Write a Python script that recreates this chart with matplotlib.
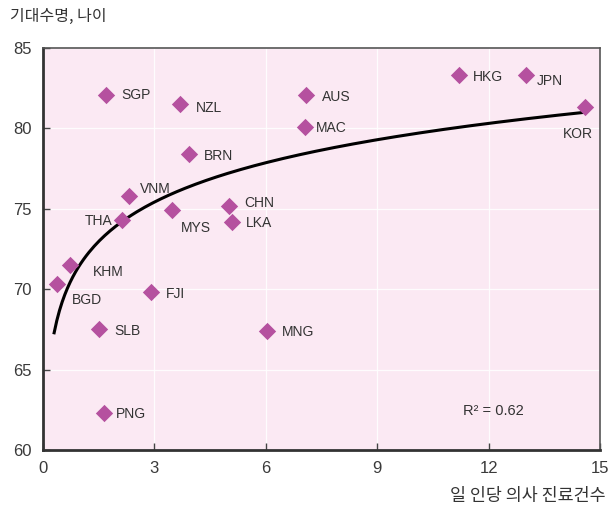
import numpy as np
import matplotlib
matplotlib.use('Agg')
import matplotlib.pyplot as plt

# 국가별 데이터
countries = ['SGP', 'NZL', 'BRN', 'VNM', 'THA', 'MYS', 'CHN', 'LKA', 'AUS', 'MAC',
             'HKG', 'JPN', 'KOR', 'KHM', 'BGD', 'FJI', 'SLB', 'MNG', 'PNG']
visits = [1.69, 3.70, 3.92, 2.31, 2.12, 3.48, 5.02, 5.10, 7.09, 7.06,
          11.2, 13.0, 14.6, 0.74, 0.37, 2.90, 1.50, 6.02, 1.63]
life_exp = [82.1, 81.5, 78.4, 75.8, 74.3, 74.9, 75.2, 74.2, 82.1, 80.1,
            83.3, 83.3, 81.3, 71.5, 70.3, 69.8, 67.5, 67.4, 62.3]
# label offsets (points) and alignment
offsets = {'SGP': (11, 0, 'left'), 'NZL': (11, -3, 'left'), 'BRN': (11, -1, 'left'),
           'VNM': (8, 5, 'left'), 'THA': (-7, -1, 'right'), 'MYS': (6, -13, 'left'),
           'CHN': (11, 2, 'left'), 'LKA': (10, -1, 'left'), 'AUS': (11, -2, 'left'),
           'MAC': (8, -1, 'left'), 'HKG': (10, -1, 'left'), 'JPN': (8, -4, 'left'),
           'KOR': (-5, -19, 'center'), 'KHM': (16, -5, 'left'), 'BGD': (11, -11, 'left'),
           'FJI': (11, -1, 'left'), 'SLB': (11, -1, 'left'), 'MNG': (11, -1, 'left'),
           'PNG': (9, -1, 'left')}

fit_a, fit_b = 71.54, 3.53  # 로그 추세선 y = a + b ln(x)
fit_x = [0.3, 14.6]

plt.rcParams['font.family'] = ['Liberation Sans', 'Noto Sans CJK KR']

fig = plt.figure(figsize=(6.08, 5.12), dpi=100)
ax = fig.add_axes([43 / 608, 62 / 512, 557 / 608, 402 / 512])
ax.set_facecolor('#fbe9f3')

ax.scatter(visits, life_exp, marker='D', s=78, color='#b5519f', zorder=3, linewidths=0)
for c, x, y in zip(countries, visits, life_exp):
    dx, dy, ha = offsets[c]
    ax.annotate(c, (x, y), xytext=(dx, dy), textcoords='offset points',
                ha=ha, va='center', fontsize=10, color='#333333')

xs = np.linspace(fit_x[0], fit_x[1], 200)
ax.plot(xs, fit_a + fit_b * np.log(xs), color='black', lw=2.2, zorder=2)

ax.text(11.3, 62.4, 'R² = 0.62', fontsize=10.5, color='#333333', va='center')

ax.set_xlim(0, 15)
ax.set_ylim(60, 85)
ax.set_xticks([0, 3, 6, 9, 12, 15])
ax.set_yticks([60, 65, 70, 75, 80, 85])
ax.grid(True, color='white', lw=0.9, alpha=0.9)
ax.set_axisbelow(True)
ax.tick_params(direction='in', length=5, width=1, color='#444444',
               labelsize=12, labelcolor='#3a3a3a', pad=8)
for s in ['left', 'bottom']:
    ax.spines[s].set_linewidth(2)
    ax.spines[s].set_color('#333333')
for s in ['top', 'right']:
    ax.spines[s].set_linewidth(1.2)
    ax.spines[s].set_color('#555555')

fig.text(10 / 608, 1 - 16 / 512, '기대수명, 나이', fontsize=11.5, color='#333333',
         va='center', family=['Noto Sans CJK KR'])
fig.text(606 / 608, 1 - 496 / 512, '일 인당 의사 진료건수', fontsize=12.5, color='#333333',
         va='center', ha='right', family=['Noto Sans CJK KR'])

fig.savefig('out.png', dpi=100)
